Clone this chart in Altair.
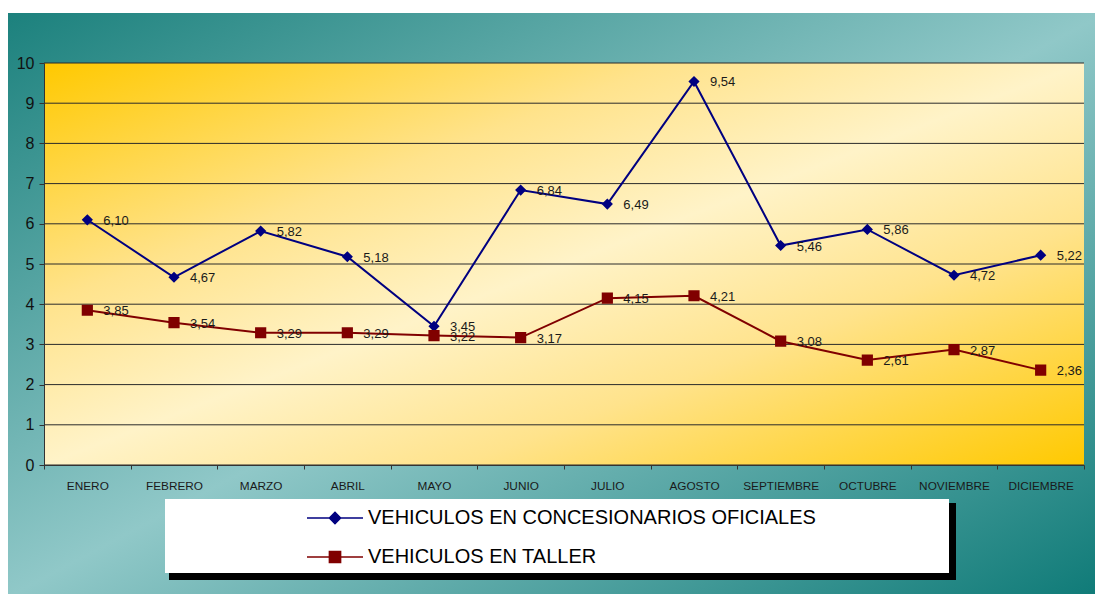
import altair as alt
import pandas as pd

# ---------------- data ----------------
meses = ["ENERO", "FEBRERO", "MARZO", "ABRIL", "MAYO", "JUNIO", "JULIO",
         "AGOSTO", "SEPTIEMBRE", "OCTUBRE", "NOVIEMBRE", "DICIEMBRE"]
serie_a = "VEHICULOS EN CONCESIONARIOS OFICIALES"
serie_b = "VEHICULOS EN TALLER"
valores_a = [6.10, 4.67, 5.82, 5.18, 3.45, 6.84, 6.49, 9.54, 5.46, 5.86, 4.72, 5.22]
valores_b = [3.85, 3.54, 3.29, 3.29, 3.22, 3.17, 4.15, 4.21, 3.08, 2.61, 2.87, 2.36]
y_ticks = list(range(0, 11))

series = [serie_a, serie_b]
colores = ["#000080", "#800000"]

rows = []
for s, vals in ((serie_a, valores_a), (serie_b, valores_b)):
    for m, v in zip(meses, vals):
        rows.append({"serie": s, "mes": m, "valor": v,
                     "etiqueta": f"{v:.2f}".replace(".", ",")})
df = pd.DataFrame(rows)
grid_df = pd.DataFrame({"v": y_ticks})

W, H = 1040, 402
FONT = "Liberation Sans"

x_scale = alt.Scale(type="band", domain=meses, paddingInner=0, paddingOuter=0)
y_scale = alt.Scale(domain=[0, 10], nice=False, zero=True)
x_axis = alt.Axis(title=None, labelAngle=0, labelFont=FONT, labelFontSize=11.8,
                  labelColor="#1a1a1a", tickBand="extent", tickSize=4,
                  tickColor="#333333", domainColor="#333333", labelPadding=11,
                  grid=False, zindex=2)
y_axis = alt.Axis(title=None, values=y_ticks, labelFont=FONT, labelFontSize=16,
                  labelColor="#111111", tickSize=5, tickColor="#333333",
                  domainColor="#333333", labelPadding=5, grid=False, zindex=2)
# line colour scale (listed in reverse order so it is kept apart from the legend scales)
line_color_scale = alt.Scale(domain=series[::-1], range=colores[::-1])

X = alt.X("mes:N", scale=x_scale, axis=x_axis, sort=meses)
Y = alt.Y("valor:Q", scale=y_scale, axis=y_axis)

one = alt.Data(values=[{"a": 1}])

# outer teal background
outer_grad = alt.LinearGradient(
    gradient="linear", x1=0, y1=0, x2=1, y2=1,
    stops=[alt.GradientStop(offset=0, color="#1c817d"),
           alt.GradientStop(offset=0.5, color="#90c8c8"),
           alt.GradientStop(offset=1, color="#0e7a77")])
outer = alt.Chart(one).mark_rect(color=outer_grad).encode(
    x=alt.value(-36), x2=alt.value(1062), y=alt.value(-50), y2=alt.value(534))

# plot area gradient
plot_grad = alt.LinearGradient(
    gradient="linear", x1=0, y1=0, x2=1, y2=1,
    stops=[alt.GradientStop(offset=0, color="#ffc900"),
           alt.GradientStop(offset=0.3, color="#ffe38c"),
           alt.GradientStop(offset=0.5, color="#fff3c8"),
           alt.GradientStop(offset=0.7, color="#ffe38c"),
           alt.GradientStop(offset=1, color="#ffc900")])
plot_bg = alt.Chart(one).mark_rect(color=plot_grad).encode(
    x=alt.value(0), x2=alt.value(W), y=alt.value(0), y2=alt.value(H))

# legend box with shadow
shadow = alt.Chart(one).mark_rect(color="#000000").encode(
    x=alt.value(125), x2=alt.value(912), y=alt.value(440), y2=alt.value(517))
box = alt.Chart(one).mark_rect(color="#ffffff").encode(
    x=alt.value(121), x2=alt.value(905), y=alt.value(436), y2=alt.value(510))

# gridlines
grid = alt.Chart(grid_df).mark_rule(color="#2a2a2a", strokeWidth=1).encode(
    y=alt.Y("v:Q", scale=y_scale, axis=y_axis))

base = alt.Chart(df)
lines = base.mark_line(strokeWidth=2).encode(
    x=X, y=Y, color=alt.Color("serie:N", scale=line_color_scale, legend=None))

labels = base.mark_text(align="left", baseline="middle", dx=16, dy=1,
                        font=FONT, fontSize=13, color="#1a1a1a").encode(
    x=X, y=Y, text="etiqueta:N")

# markers: custom symbols = marker + horizontal line (line only stroked in legend)
path_d = "M-1,0L1,0M-0.2,0L0,-0.2L0.2,0L0,0.2Z"
path_s = "M-1,0L1,0M-0.2,-0.2L0.2,-0.2L0.2,0.2L-0.2,0.2Z"
leg = alt.Legend(title=None, orient="none", legendX=262, legendY=426,
                 direction="vertical", symbolSize=3136, symbolStrokeWidth=1.5,
                 labelFont=FONT, labelFontSize=20, labelColor="#000000",
                 labelOffset=4, rowPadding=0, padding=0, labelLimit=800,
                 zindex=5)
pts = base.mark_point(filled=True, opacity=1, size=3136).encode(
    x=X, y=Y,
    shape=alt.Shape("serie:N", scale=alt.Scale(domain=series, range=[path_d, path_s]), legend=leg),
    fill=alt.Fill("serie:N", scale=alt.Scale(domain=series, range=colores), legend=leg),
    stroke=alt.Stroke("serie:N", scale=alt.Scale(domain=series, range=colores), legend=leg),
    strokeWidth=alt.value(0))

chart = alt.layer(outer, plot_bg, shadow, box, grid, lines, pts, labels).properties(
    width=W, height=H,
    padding={"left": 36, "top": 55, "right": 11, "bottom": 129},
    autosize=alt.AutoSizeParams(type="none"),
    background="#ffffff",
).configure_view(stroke=None).configure_legend(zindex=5)

chart.save("out.html", embed_options={"renderer": "svg", "actions": False})
